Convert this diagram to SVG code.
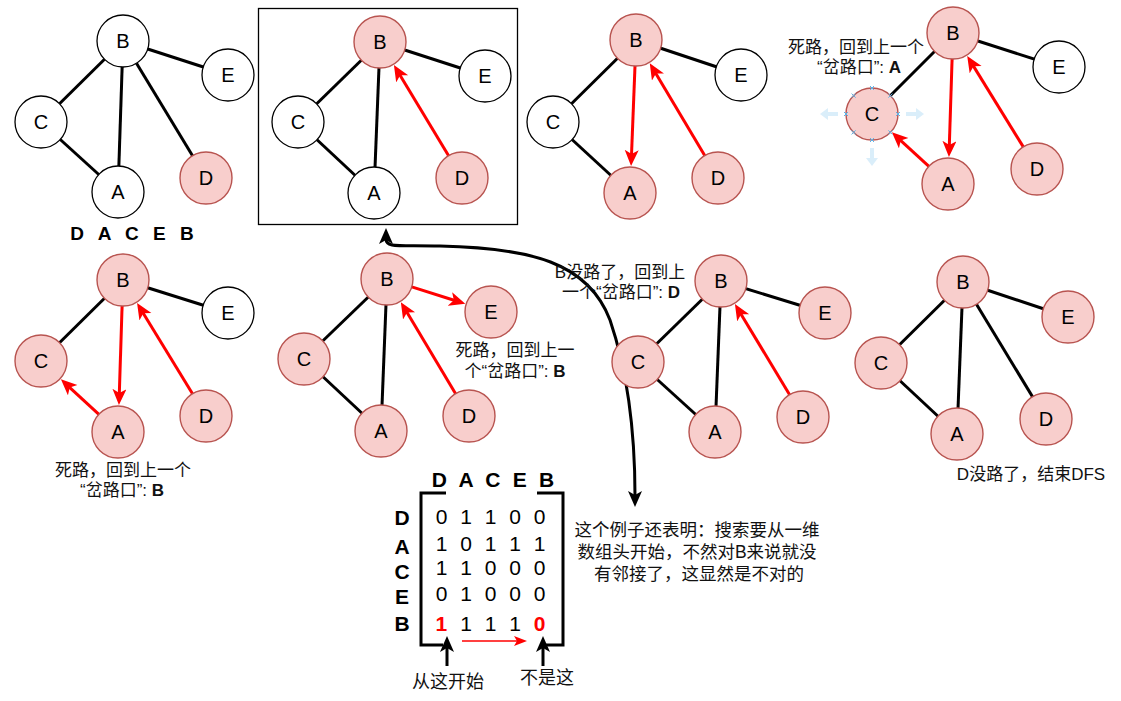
<svg xmlns="http://www.w3.org/2000/svg" width="1121" height="701" viewBox="0 0 1121 701">
<style>
.w{fill:#fff;stroke:#000;stroke-width:1.3}
.p{fill:#f8cecc;stroke:#b85450;stroke-width:1.4}
.nl{font-family:"Liberation Sans",Arial,sans-serif;font-size:20px;text-anchor:middle;fill:#000}
.e{stroke:#000;stroke-width:3;fill:none}
.r{stroke:#f00;stroke-width:3;fill:none;marker-end:url(#ar)}
.t{font-family:"Liberation Sans","Noto Sans CJK SC",sans-serif;font-size:17px;text-anchor:middle;fill:#111}
.b{font-weight:bold}
.m{font-family:"Liberation Sans",Arial,sans-serif;font-size:21px;text-anchor:middle;fill:#000}
.red{fill:#f00;font-weight:bold}
.h{fill:#d6ecfa;opacity:0.9}
.x{stroke:#58b4ea;stroke-width:1}
</style>
<defs>
<marker id="ar" markerUnits="userSpaceOnUse" markerWidth="17" markerHeight="15" refX="5" refY="7" orient="auto"><path d="M0,0 L16,7 L0,14 L4,7 Z" fill="#f00"/></marker>
<marker id="ak" markerUnits="userSpaceOnUse" markerWidth="17" markerHeight="15" refX="5" refY="7" orient="auto-start-reverse"><path d="M0,0 L16,7 L0,14 L4,7 Z" fill="#000"/></marker>
<marker id="ars" markerUnits="userSpaceOnUse" markerWidth="14" markerHeight="11" refX="4" refY="5" orient="auto"><path d="M0,0 L13,5 L0,10 L3,5 Z" fill="#f00"/></marker>
</defs>
<rect x="0" y="0" width="1121" height="701" fill="#fff"/>
<g id="connectors">
<!-- G1 -->
<line class="e" x1="123" y1="41" x2="228" y2="75"/>
<line class="e" x1="123" y1="41" x2="41" y2="122"/>
<line class="e" x1="123" y1="41" x2="118" y2="192"/>
<line class="e" x1="123" y1="41" x2="206" y2="178"/>
<line class="e" x1="41" y1="122" x2="118" y2="192"/>
<!-- G2 -->
<line class="e" x1="380" y1="42" x2="485" y2="76"/>
<line class="e" x1="380" y1="42" x2="298" y2="122"/>
<line class="e" x1="380" y1="42" x2="374" y2="193"/>
<line class="e" x1="298" y1="122" x2="374" y2="193"/>
<line class="r" x1="448.6" y1="155.7" x2="399.6" y2="74.5"/>
<!-- G3 -->
<line class="e" x1="636" y1="40" x2="741" y2="75"/>
<line class="e" x1="636" y1="40" x2="553" y2="122"/>
<line class="e" x1="553" y1="122" x2="630" y2="193"/>
<line class="r" x1="635" y1="66" x2="631.5" y2="155"/>
<line class="r" x1="704.7" y1="155.6" x2="655.4" y2="72.7"/>
<!-- G4 -->
<line class="e" x1="953" y1="33" x2="1059" y2="67"/>
<line class="e" x1="953" y1="33" x2="872" y2="114"/>
<line class="r" x1="952.1" y1="59" x2="949.3" y2="146"/>
<line class="r" x1="928.9" y1="166.4" x2="900" y2="139.8"/>
<line class="r" x1="1023.3" y1="146.9" x2="973" y2="65.4"/>
<!-- G5 -->
<line class="e" x1="123" y1="280" x2="228" y2="313"/>
<line class="e" x1="123" y1="280" x2="41" y2="361"/>
<line class="r" x1="122.1" y1="306" x2="119.3" y2="394"/>
<line class="r" x1="98.9" y1="414.4" x2="69" y2="386.8"/>
<line class="r" x1="192.5" y1="393.8" x2="142.8" y2="312.5"/>
<!-- G6 -->
<line class="e" x1="387" y1="279" x2="304" y2="359"/>
<line class="e" x1="387" y1="279" x2="381" y2="431"/>
<line class="e" x1="304" y1="359" x2="381" y2="431"/>
<line class="r" x1="411.8" y1="286.9" x2="454.8" y2="300.5"/>
<line class="r" x1="455.6" y1="393.7" x2="406.5" y2="311.6"/>
<!-- G7 -->
<line class="e" x1="721" y1="281" x2="825" y2="313"/>
<line class="e" x1="721" y1="281" x2="638" y2="362"/>
<line class="e" x1="721" y1="281" x2="715" y2="432"/>
<line class="e" x1="638" y1="362" x2="715" y2="432"/>
<line class="r" x1="789.6" y1="394.7" x2="740.6" y2="313.5"/>
<!-- G8 -->
<line class="e" x1="963" y1="282" x2="1068" y2="317"/>
<line class="e" x1="963" y1="282" x2="881" y2="363"/>
<line class="e" x1="963" y1="282" x2="957" y2="434"/>
<line class="e" x1="963" y1="282" x2="1046" y2="419"/>
<line class="e" x1="881" y1="363" x2="957" y2="434"/>
<!-- big curve -->
<path class="e" d="M386,239 C386,248 398,245 440,246 C530,248 588,262 610,320 C627,370 635,430 635,496" marker-start="url(#ak)" marker-end="url(#ak)"/>
<!-- matrix arrows -->
<line class="e" x1="447" y1="666" x2="447" y2="647" marker-end="url(#ak)"/>
<line class="e" x1="543" y1="666" x2="543" y2="647" marker-end="url(#ak)"/>
<line x1="462" y1="641" x2="518" y2="641" stroke="#f00" stroke-width="1.5" marker-end="url(#ars)"/>
</g>
<rect id="frame" x="258.5" y="8.5" width="259" height="216" fill="none" stroke="#000" stroke-width="1.3"/>
<g id="g1">
<g id="g1-B"><circle class="w" cx="123" cy="41" r="26"/><text class="nl" x="123" y="48">B</text></g>
<g id="g1-E"><circle class="w" cx="228" cy="75" r="26"/><text class="nl" x="228" y="82">E</text></g>
<g id="g1-C"><circle class="w" cx="41" cy="122" r="26"/><text class="nl" x="41" y="129">C</text></g>
<g id="g1-A"><circle class="w" cx="118" cy="192" r="26"/><text class="nl" x="118" y="199">A</text></g>
<g id="g1-D"><circle class="p" cx="206" cy="178" r="26"/><text class="nl" x="206" y="185">D</text></g>
</g>
<g id="g2">
<g id="g2-B"><circle class="p" cx="380" cy="42" r="26"/><text class="nl" x="380" y="49">B</text></g>
<g id="g2-E"><circle class="w" cx="485" cy="76" r="26"/><text class="nl" x="485" y="83">E</text></g>
<g id="g2-C"><circle class="w" cx="298" cy="122" r="26"/><text class="nl" x="298" y="129">C</text></g>
<g id="g2-A"><circle class="w" cx="374" cy="193" r="26"/><text class="nl" x="374" y="200">A</text></g>
<g id="g2-D"><circle class="p" cx="462" cy="178" r="26"/><text class="nl" x="462" y="185">D</text></g>
</g>
<g id="g3">
<g id="g3-B"><circle class="p" cx="636" cy="40" r="26"/><text class="nl" x="636" y="47">B</text></g>
<g id="g3-E"><circle class="w" cx="741" cy="75" r="26"/><text class="nl" x="741" y="82">E</text></g>
<g id="g3-C"><circle class="w" cx="553" cy="122" r="26"/><text class="nl" x="553" y="129">C</text></g>
<g id="g3-A"><circle class="p" cx="630" cy="193" r="26"/><text class="nl" x="630" y="200">A</text></g>
<g id="g3-D"><circle class="p" cx="718" cy="178" r="26"/><text class="nl" x="718" y="185">D</text></g>
</g>
<g id="g4">
<g id="g4-B"><circle class="p" cx="953" cy="33" r="26"/><text class="nl" x="953" y="40">B</text></g>
<g id="g4-E"><circle class="w" cx="1059" cy="67" r="26"/><text class="nl" x="1059" y="74">E</text></g>
<g id="g4-C"><circle class="p" cx="872" cy="114" r="26"/><text class="nl" x="872" y="121">C</text></g>
<g id="g4-A"><circle class="p" cx="948" cy="184" r="26"/><text class="nl" x="948" y="191">A</text></g>
<g id="g4-D"><circle class="p" cx="1037" cy="169" r="26"/><text class="nl" x="1037" y="176">D</text></g>
</g>
<g id="handles">
<path class="h" d="M820,114 L828,108 L828,112 L838,112 L838,116 L828,116 L828,120 Z"/>
<path class="h" d="M924,114 L916,108 L916,112 L906,112 L906,116 L916,116 L916,120 Z"/>
<path class="h" d="M872,166 L866,158 L870,158 L870,148 L874,148 L874,158 L878,158 Z"/>
<path class="x" d="M844,112 L848,116 M848,112 L844,116 M896,112 L900,116 M900,112 L896,116 M870,86 L874,90 M874,86 L870,90 M870,138 L874,142 M874,138 L870,142 M851.6,93.6 L855.6,97.6 M855.6,93.6 L851.6,97.6 M888.4,93.6 L892.4,97.6 M892.4,93.6 L888.4,97.6 M851.6,130.4 L855.6,134.4 M855.6,130.4 L851.6,134.4 M888.4,130.4 L892.4,134.4 M892.4,130.4 L888.4,134.4"/>
</g>
<g id="g5">
<g id="g5-B"><circle class="p" cx="123" cy="280" r="26"/><text class="nl" x="123" y="287">B</text></g>
<g id="g5-E"><circle class="w" cx="228" cy="313" r="26"/><text class="nl" x="228" y="320">E</text></g>
<g id="g5-C"><circle class="p" cx="41" cy="361" r="26"/><text class="nl" x="41" y="368">C</text></g>
<g id="g5-A"><circle class="p" cx="118" cy="432" r="26"/><text class="nl" x="118" y="439">A</text></g>
<g id="g5-D"><circle class="p" cx="206" cy="416" r="26"/><text class="nl" x="206" y="423">D</text></g>
</g>
<g id="g6">
<g id="g6-B"><circle class="p" cx="387" cy="279" r="26"/><text class="nl" x="387" y="286">B</text></g>
<g id="g6-E"><circle class="p" cx="491" cy="312" r="26"/><text class="nl" x="491" y="319">E</text></g>
<g id="g6-C"><circle class="p" cx="304" cy="359" r="26"/><text class="nl" x="304" y="366">C</text></g>
<g id="g6-A"><circle class="p" cx="381" cy="431" r="26"/><text class="nl" x="381" y="438">A</text></g>
<g id="g6-D"><circle class="p" cx="469" cy="416" r="26"/><text class="nl" x="469" y="423">D</text></g>
</g>
<g id="g7">
<g id="g7-B"><circle class="p" cx="721" cy="281" r="26"/><text class="nl" x="721" y="288">B</text></g>
<g id="g7-E"><circle class="p" cx="825" cy="313" r="26"/><text class="nl" x="825" y="320">E</text></g>
<g id="g7-C"><circle class="p" cx="638" cy="362" r="26"/><text class="nl" x="638" y="369">C</text></g>
<g id="g7-A"><circle class="p" cx="715" cy="432" r="26"/><text class="nl" x="715" y="439">A</text></g>
<g id="g7-D"><circle class="p" cx="803" cy="417" r="26"/><text class="nl" x="803" y="424">D</text></g>
</g>
<g id="g8">
<g id="g8-B"><circle class="p" cx="963" cy="282" r="26"/><text class="nl" x="963" y="289">B</text></g>
<g id="g8-E"><circle class="p" cx="1068" cy="317" r="26"/><text class="nl" x="1068" y="324">E</text></g>
<g id="g8-C"><circle class="p" cx="881" cy="363" r="26"/><text class="nl" x="881" y="370">C</text></g>
<g id="g8-A"><circle class="p" cx="957" cy="434" r="26"/><text class="nl" x="957" y="441">A</text></g>
<g id="g8-D"><circle class="p" cx="1046" cy="419" r="26"/><text class="nl" x="1046" y="426">D</text></g>
</g>
<g id="labels">
<text class="m b" x="132" y="240" style="font-size:19px;word-spacing:9px">D A C E B</text>
<text class="t" x="856" y="53">死路，回到上一个</text>
<text class="t" x="859" y="73">“岔路口”: <tspan class="b">A</tspan></text>
<text class="t" x="123" y="476">死路，回到上一个</text>
<text class="t" x="122" y="496">“岔路口”: <tspan class="b">B</tspan></text>
<text class="t" x="515" y="356">死路，回到上一</text>
<text class="t" x="515" y="377">个“岔路口”: <tspan class="b">B</tspan></text>
<text class="t" x="620" y="278">B没路了，回到上</text>
<text class="t" x="621" y="298">一个“岔路口”: <tspan class="b">D</tspan></text>
<text class="t" x="1031" y="480">D没路了，结束DFS</text>
<text class="t" x="697" y="536" style="font-size:17.5px">这个例子还表明：搜索要从一维</text>
<text class="t" x="697" y="558" style="font-size:17.5px">数组头开始，不然对B来说就没</text>
<text class="t" x="699" y="580" style="font-size:17.5px">有邻接了，这显然是不对的</text>
<text class="t" x="448" y="688" style="font-size:18px">从这开始</text>
<text class="t" x="547" y="684" style="font-size:18px">不是这</text>
</g>
<g id="matrix">
<path class="e" d="M446,493 L421,493 L421,645 L443,645"/>
<path class="e" d="M537,493 L563,493 L563,645 L546,645"/>
<text class="m b" x="493" y="487" style="word-spacing:6.5px">D A C E B</text>
<text class="m b" x="402" y="525">D</text>
<text class="m b" x="402" y="554">A</text>
<text class="m b" x="402" y="579">C</text>
<text class="m b" x="402" y="604">E</text>
<text class="m b" x="402" y="631">B</text>
<g style="word-spacing:7px">
<text class="m" x="490.5" y="524">0 1 1 0 0</text>
<text class="m" x="490.5" y="551">1 0 1 1 1</text>
<text class="m" x="490.5" y="575">1 1 0 0 0</text>
<text class="m" x="490.5" y="601">0 1 0 0 0</text>
<text class="m" x="490.5" y="631"><tspan class="red">1</tspan> 1 1 1 <tspan class="red">0</tspan></text>
</g>
</g>
</svg>
